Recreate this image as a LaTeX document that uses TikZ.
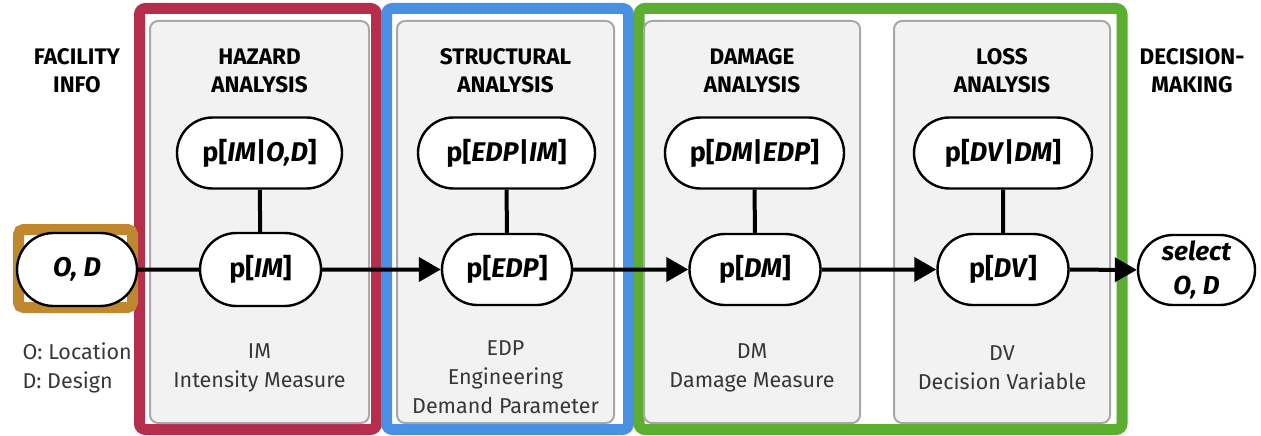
\documentclass[tikz,border=0pt]{standalone}
\usepackage{fontspec}
\setmainfont{Fira Sans}
\usetikzlibrary{shapes.misc,arrows.meta}

\definecolor{hazred}{RGB}{181,46,76}
\definecolor{strblue}{RGB}{74,144,226}
\definecolor{lossgreen}{RGB}{92,174,48}
\definecolor{infoorange}{RGB}{192,136,46}
\definecolor{panelfill}{RGB}{242,242,242}
\definecolor{panelline}{RGB}{168,168,168}
\definecolor{descgray}{RGB}{55,55,55}

\newcommand\pillfont{\fontsize{27}{30}\selectfont\bfseries}
\newcommand\headfont{\fontsize{22.5}{28}\selectfont\bfseries}
\newcommand\descfont{\fontsize{21.5}{29}\selectfont}

\begin{document}
\begin{tikzpicture}[x=1pt,y=-1pt,
  panel/.style={draw=panelline, line width=2, fill=panelfill, rounded corners=8},
  frame/.style={line width=11, rounded corners=6},
  pill/.style={rounded rectangle, draw=black, line width=2.4, fill=white,
               inner sep=0pt, minimum height=71, font=\pillfont},
  head/.style={font=\headfont, align=center, text=black},
  desc/.style={font=\descfont, align=center, text=descgray},
  link/.style={line width=4},
  flow/.style={line width=4, -{Triangle[length=22pt,width=24pt]}}]

\useasboundingbox (0,0) rectangle (1261,436);

% grouping frames
\draw[frame, hazred]    (139.5,8.5) rectangle (376.5,429.5);
\draw[frame, strblue]   (386.5,8.5) rectangle (628.5,429.5);
\draw[frame, lossgreen] (639,8.5)   rectangle (1122,429.5);

% analysis panels
\draw[panel] (150,21) rectangle (369,423);
\draw[panel] (397,21) rectangle (614,423);
\draw[panel] (644,21) rectangle (860,423);
\draw[panel] (894,21) rectangle (1110,423);

% facility information box
\draw[infoorange, line width=11, rounded corners=5, fill=white]
  (18.5,229.5) rectangle (132.5,307.5);

% column headings
\node[head] (hfac) at (77,71)     {FACILITY\\INFO};
\node[head] (hhaz) at (259.5,71)  {HAZARD\\ANALYSIS};
\node[head] (hstr) at (505.5,71)  {STRUCTURAL\\ANALYSIS};
\node[head] (hdam) at (752,71)    {DAMAGE\\ANALYSIS};
\node[head] (hlos) at (1002,71)   {LOSS\\ANALYSIS};
\node[head] (hdec) at (1192,71)   {DECISION-\\MAKING};

% conditional distributions
\node[pill, minimum width=165] (pimod)  at (259.5,153) {p[\textit{IM}|\textit{O,D}]};
\node[pill, minimum width=177] (pedpim) at (506.5,153) {p[\textit{EDP}|\textit{IM}]};
\node[pill, minimum width=179] (pdmedp) at (754.5,153) {p[\textit{DM}|\textit{EDP}]};
\node[pill, minimum width=178] (pdvdm)  at (1003,153)  {p[\textit{DV}|\textit{DM}]};

% chain of distributions
\node[pill, minimum width=120, minimum height=73] (od) at (77,269.5) {\textit{O, D}};
\node[pill, minimum width=121, minimum height=73] (pim)  at (260.5,269.5) {p[\textit{IM}]};
\node[pill, minimum width=130] (pedp) at (507,269.5)  {p[\textit{EDP}]};
\node[pill, minimum width=131] (pdm)  at (755,269.5)  {p[\textit{DM}]};
\node[pill, minimum width=131] (pdv)  at (1003,269.5) {p[\textit{DV}]};
\node[pill, minimum width=117, minimum height=70, align=center,
      font=\fontsize{26}{34}\selectfont\bfseries\itshape] (sel) at (1196.5,270) {select\\O, D};

% connectors
\draw[link] (pimod) -- (pim);
\draw[link] (pedpim) -- (pedp);
\draw[link] (pdmedp) -- (pdm);
\draw[link] (pdvdm) -- (pdv);
\draw[link] (od) -- (pim);
\draw[flow] (pim) -- (pedp);
\draw[flow] (pedp) -- (pdm);
\draw[flow] (pdm) -- (pdv);
\draw[flow] (pdv) -- (sel);

% variable descriptions
\node[desc, align=left, anchor=west] (dfac) at (19,367.5) {O: Location\\D: Design};
\node[desc] (dhaz) at (259.5,367.5) {IM\\Intensity Measure};
\node[desc] (dstr) at (505.5,377)   {EDP\\Engineering\\Demand Parameter};
\node[desc] (ddam) at (752,367.5)   {DM\\Damage Measure};
\node[desc] (dlos) at (1002,367.5)  {DV\\Decision Variable};
\end{tikzpicture}
\end{document}
